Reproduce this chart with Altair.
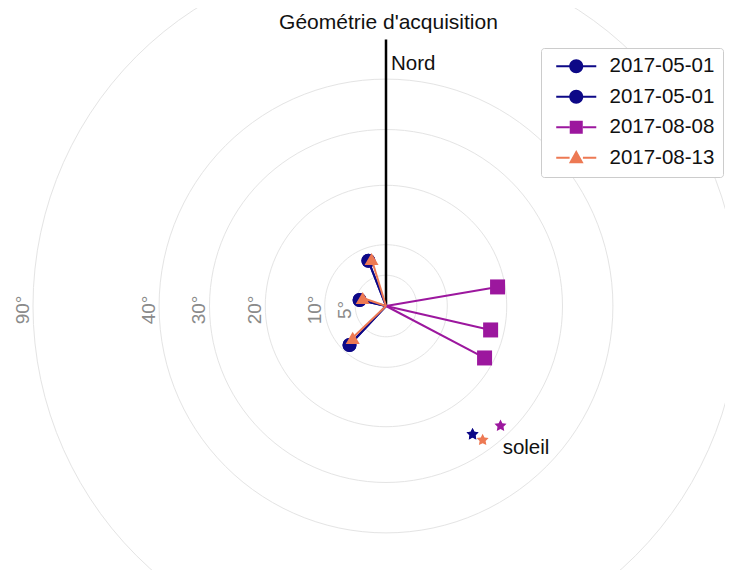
import altair as alt
import pandas as pd

# ---------------- data ----------------
TITLE = "Géométrie d'acquisition"
SERIES_IDS = ["s1", "s2", "s3", "s4"]
SERIES_LABELS = ["2017-05-01", "2017-05-01", "2017-08-08", "2017-08-13"]

# viewing geometry (azimuth clockwise from north, zenith angle in degrees)
VIEW_AZIMUTH = [
    [338.7, 282.8, 223.1],
    [338.7, 282.8, 223.1],
    [80.3, 102.9, 117.8],
    [342.9, 288.8, 226.3],
]
VIEW_ZENITH = [
    [7.9, 4.4, 8.7],
    [7.9, 4.4, 8.7],
    [18.7, 17.7, 18.4],
    [8.0, 4.0, 7.5],
]
SUN_AZIMUTH = [146.0, 146.0, 136.3, 144.2]
SUN_ZENITH = [26.0, 26.0, 28.0, 27.9]
SUN_LABEL = "soleil"

RINGS = [5, 10, 20, 30, 40, 90]
RING_LABELS = ["5°", "10°", "20°", "30°", "40°", "90°"]
NORTH_LABEL = "Nord"
NORTH_LENGTH = 0.755

# ---------------- styles ----------------
COLORS = ["#0d0887", "#0d0887", "#9c179e", "#ed7953"]
MARKERS = ["circle", "circle", "square", "triangle-up"]
MARKER_SIZES = [196, 196, 225, 196]
STAR = ("M0,-1 L0.294,-0.405 L0.951,-0.309 L0.476,0.155 L0.588,0.809 "
        "L0,0.5 L-0.588,0.809 L-0.476,0.155 L-0.951,-0.309 L-0.294,-0.405 Z")
_LINE = "M-2.86,-0.14 L-0.95,-0.14 L-0.95,0.14 L-2.86,0.14 Z M0.95,-0.14 L2.86,-0.14 L2.86,0.14 L0.95,0.14 Z "
LEGEND_PATHS = [
    _LINE + "M-1,0 A1,1 0 0,1 1,0 A1,1 0 0,1 -1,0 Z",
    _LINE + "M-1,0 A1,1 0 0,1 1,0 A1,1 0 0,1 -1,0 Z",
    _LINE + "M-0.93,-0.93 L0.93,-0.93 L0.93,0.93 L-0.93,0.93 Z",
    _LINE + "M0,-1.1 L1.05,0.8 L-1.05,0.8 Z",
]
FONT = "Liberation Sans"
W, H = 717, 562
X_DOMAIN = [-1.0708, 0.9603]
Y_DOMAIN = [-0.7479, 0.8442]

# ---------------- tables ----------------
obs_rows = []
for i, sid in enumerate(SERIES_IDS):
    for az, zen in zip(VIEW_AZIMUTH[i], VIEW_ZENITH[i]):
        obs_rows.append({"sid": sid, "az": az, "zen": zen, "color": COLORS[i],
                         "marker": MARKERS[i], "msize": MARKER_SIZES[i]})
obs_df = pd.DataFrame(obs_rows)
sun_df = pd.DataFrame({"sid": SERIES_IDS, "az": SUN_AZIMUTH, "zen": SUN_ZENITH, "color": COLORS})
ring_df = pd.DataFrame({"ring": RINGS, "label": RING_LABELS})
north_df = pd.DataFrame({"len": [NORTH_LENGTH], "label": [NORTH_LABEL]})
series_df = pd.DataFrame({"sid": SERIES_IDS, "label": SERIES_LABELS})

X = alt.X("x:Q", scale=alt.Scale(domain=X_DOMAIN, nice=False, zero=False), axis=None)
Y = alt.Y("y:Q", scale=alt.Scale(domain=Y_DOMAIN, nice=False, zero=False), axis=None)
POLAR = dict(
    x="sin(datum.zen*PI/180)*sin(datum.az*PI/180)",
    y="sin(datum.zen*PI/180)*cos(datum.az*PI/180)",
    x0="0", y0="0",
)

rings = (
    alt.Chart(ring_df)
    .transform_calculate(t="sequence(0, 361, 3)")
    .transform_flatten(["t"])
    .transform_calculate(
        x="sin(datum.ring*PI/180)*sin(datum.t*PI/180)",
        y="sin(datum.ring*PI/180)*cos(datum.t*PI/180)",
    )
    .mark_line(clip=True, stroke="#e4e4e4", strokeWidth=1)
    .encode(x=X, y=Y, detail="ring:N", order="t:Q")
)

ring_labels = (
    alt.Chart(ring_df)
    .transform_calculate(x="-sin(datum.ring*PI/180)", y="0")
    .mark_text(angle=270, align="center", baseline="middle", dx=-4, dy=-10,
               fontSize=19, color="#8a8a8a", font=FONT)
    .encode(x=X, y=Y, text="label:N")
)

north_rule = (
    alt.Chart(north_df)
    .transform_calculate(x="0", y="datum.len", x0="0", y0="0")
    .mark_rule(color="black", strokeWidth=2.5)
    .encode(x=X, y=Y, x2=alt.X2("x0"), y2=alt.Y2("y0"))
)
north_text = (
    alt.Chart(north_df)
    .transform_calculate(x="0", y="datum.len")
    .mark_text(align="left", baseline="middle", dx=5, dy=25, fontSize=20.5,
               color="#111111", font=FONT)
    .encode(x=X, y=Y, text="label:N")
)

obs_base = alt.Chart(obs_df).transform_calculate(**POLAR)
series_layers = []
for sid in SERIES_IDS:
    b = obs_base.transform_filter(alt.datum.sid == sid)
    series_layers.append(
        b.mark_rule(strokeWidth=2).encode(
            x=X, y=Y, x2=alt.X2("x0"), y2=alt.Y2("y0"),
            stroke=alt.Stroke("color:N", scale=None),
        )
    )
    series_layers.append(
        b.mark_point(filled=True, opacity=1, strokeWidth=0).encode(
            x=X, y=Y,
            fill=alt.Fill("color:N", scale=None),
            shape=alt.Shape("marker:N", scale=None),
            size=alt.Size("msize:Q", scale=None),
        )
    )

sun_base = alt.Chart(sun_df).transform_calculate(**POLAR)
suns = sun_base.mark_point(filled=True, opacity=1, shape=STAR, size=160, strokeWidth=0).encode(
    x=X, y=Y, fill=alt.Fill("color:N", scale=None)
)
sun_text = (
    sun_base.transform_filter(alt.datum.sid == SERIES_IDS[-1])
    .transform_calculate(label=f"'{SUN_LABEL}'")
    .mark_text(align="left", baseline="middle", dx=20, dy=8, fontSize=20.5,
               color="#111111", font=FONT)
    .encode(x=X, y=Y, text="label:N")
)

label_expr = (
    "[" + ",".join(f"'{l}'" for l in SERIES_LABELS) + "]"
    "[indexof([" + ",".join(f"'{s}'" for s in SERIES_IDS) + "], datum.value)]"
)
legend = alt.Legend(
    orient="none", legendX=533, legendY=40, title=None, labelExpr=label_expr,
    labelFontSize=20.5, labelFont=FONT, labelColor="#111111",
    symbolSize=196, symbolOffset=17, labelOffset=23, rowPadding=9.5, padding=8,
    fillColor="white", strokeColor="#cccccc", cornerRadius=3, symbolStrokeWidth=0,
)
legend_layer = alt.Chart(series_df).mark_point(filled=True).encode(
    x=alt.value(0), y=alt.value(0), opacity=alt.value(0),
    color=alt.Color("sid:N", scale=alt.Scale(domain=SERIES_IDS, range=COLORS), legend=legend),
    shape=alt.Shape("sid:N", scale=alt.Scale(domain=SERIES_IDS, range=LEGEND_PATHS), legend=legend),
)

chart = (
    alt.layer(rings, ring_labels, north_rule, north_text, *series_layers, suns, sun_text, legend_layer)
    .properties(
        width=W, height=H,
        title=alt.TitleParams(TITLE, fontSize=21, font=FONT, fontWeight="normal",
                              color="#111111", anchor="middle", frame="group",
                              offset=-28, dx=22),
        autosize=alt.AutoSizeParams(type="none"),
        padding=0,
        background="white",
    )
    .configure_view(stroke=None)
)

chart.save("out.html", embed_options={"renderer": "svg", "actions": False})
